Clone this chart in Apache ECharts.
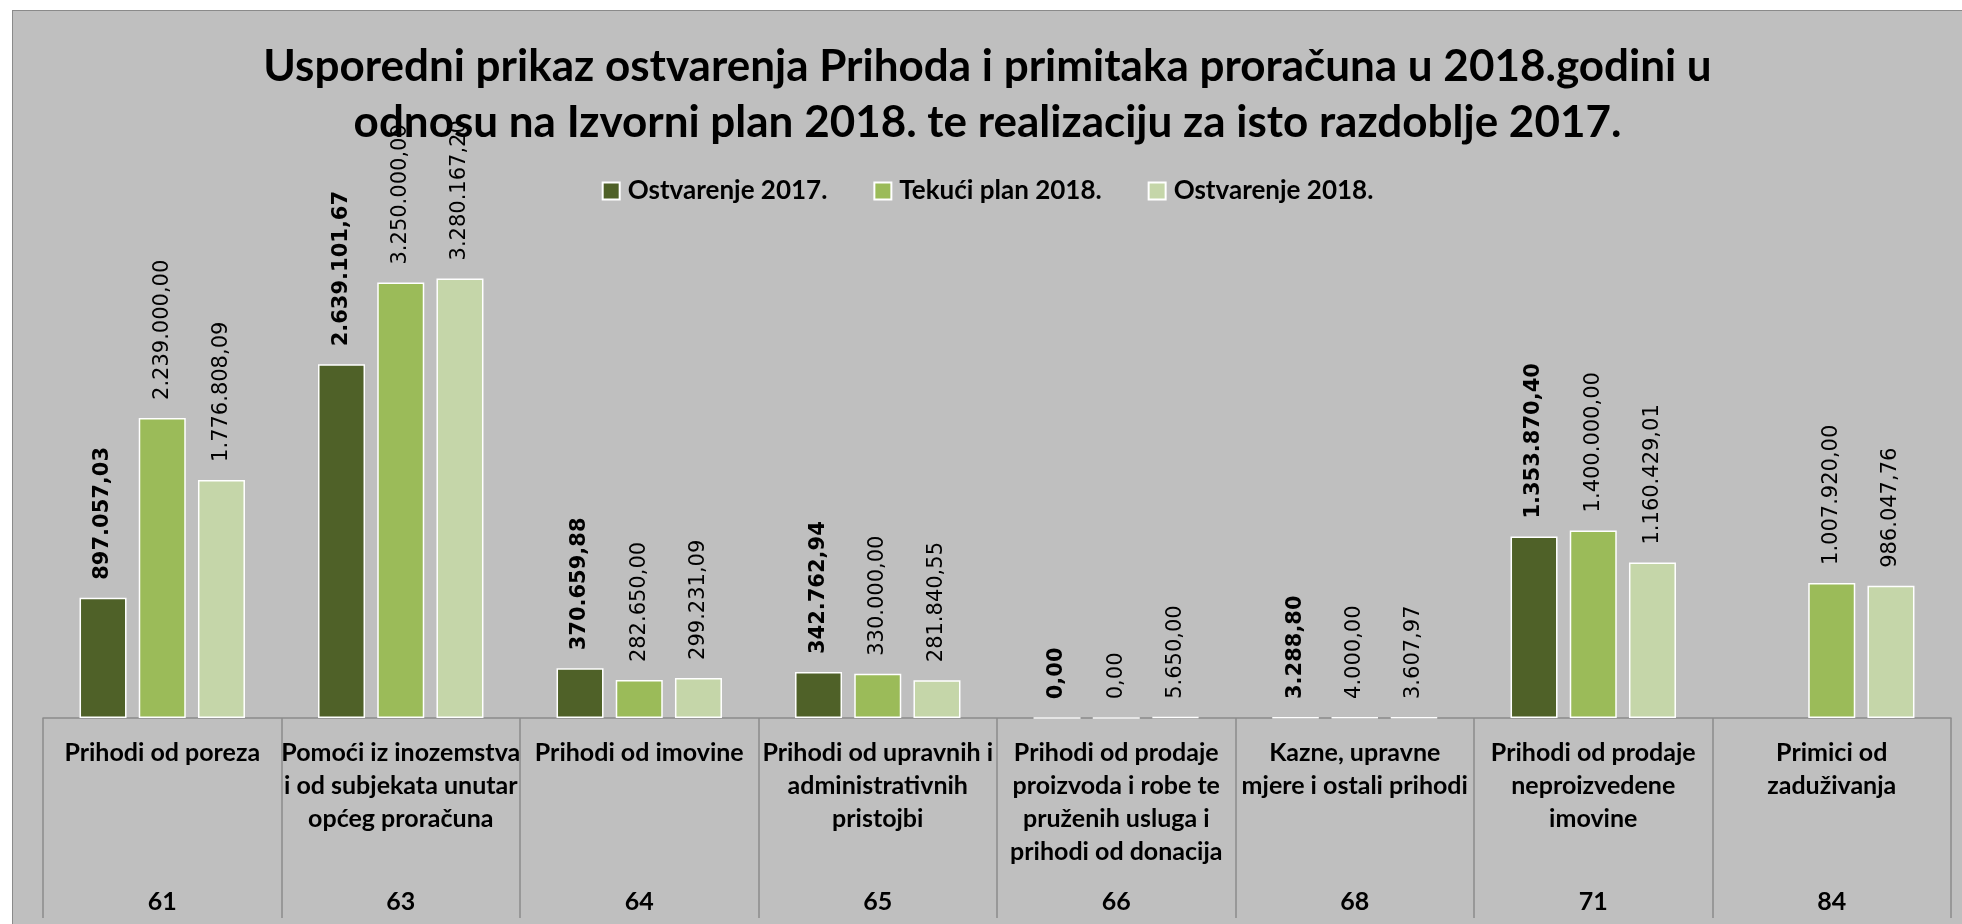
<!DOCTYPE html>
<html>
<head>
<meta charset="utf-8">
<script src="https://cdn.jsdelivr.net/npm/echarts@6/dist/echarts.min.js"></script>
<style>
  html, body { margin: 0; padding: 0; background: #fff; }
  #wrap { position: relative; width: 1962px; height: 924px; background: #fff; }
  #chart {
    position: absolute; left: 12px; top: 10px; width: 1950px; height: 914px;
    background: #bfbfbf; border-top: 1.5px solid #8a8a8a; border-left: 1.5px solid #8a8a8a;
    box-sizing: border-box;
  }
</style>
</head>
<body>
<div id="wrap"><div id="chart"></div></div>
<script>
// kategorije (naziv + konto)
const categories = [
  'Prihodi od poreza',
  'Pomoći iz inozemstva\ni od subjekata unutar\nopćeg proračuna',
  'Prihodi od imovine',
  'Prihodi od upravnih i\nadministrativnih\npristojbi',
  'Prihodi od prodaje\nproizvoda i robe te\npruženih usluga i\nprihodi od donacija',
  'Kazne, upravne\nmjere i ostali prihodi',
  'Prihodi od prodaje\nneproizvedene\nimovine',
  'Primici od\nzaduživanja'
];
const codes = ['61', '63', '64', '65', '66', '68', '71', '84'];

const ostvarenje2017 = [897057.03, 2639101.67, 370659.88, 342762.94, 0, 3288.80, 1353870.40, null];
const tekuciPlan2018 = [2239000.00, 3250000.00, 282650.00, 330000.00, 0, 4000.00, 1400000.00, 1007920.00];
const ostvarenje2018 = [1776808.09, 3280167.20, 299231.09, 281840.55, 5650.00, 3607.97, 1160429.01, 986047.76];

const seriesNames = ['Ostvarenje 2017.', 'Tekući plan 2018.', 'Ostvarenje 2018.'];
const colors = ['#4f6128', '#9bbb59', '#c5d6a9'];

// 1234567.8 -> 1.234.567,80
function fmt(v) {
  const parts = Number(v).toFixed(2).split('.');
  return parts[0].replace(/\B(?=(\d{3})+(?!\d))/g, '.') + ',' + parts[1];
}

function barSeries(name, data, color, bold) {
  return {
    name: name,
    type: 'bar',
    data: data,
    barWidth: 47,
    barGap: '26%',
    itemStyle: { color: color, borderColor: '#ffffff', borderWidth: 1.5 },
    label: {
      show: true,
      position: 'top',
      rotate: 90,
      align: 'left',
      verticalAlign: 'middle',
      distance: 18,
      fontFamily: 'DejaVu Sans',
      fontSize: 21,
      fontWeight: bold ? 'bold' : 'normal',
      color: '#000',
      formatter: function (p) { return fmt(p.value); }
    }
  };
}

const chart = echarts.init(document.getElementById('chart'));
chart.setOption({
  animation: false,
  backgroundColor: 'transparent',
  title: {
    text: 'Usporedni prikaz ostvarenja Prihoda i primitaka proračuna u 2018.godini u\nodnosu na Izvorni plan 2018. te realizaciju za isto razdoblje 2017.',
    left: 'center',
    top: 28,
    padding: 0,
    textStyle: {
      fontFamily: 'Lato',
      fontWeight: 'bold',
      fontSize: 44,
      lineHeight: 56,
      color: '#000'
    }
  },
  legend: {
    top: 162,
    left: 'center',
    itemWidth: 17,
    itemHeight: 17,
    itemGap: 46,
    icon: 'rect',
    textStyle: {
      fontFamily: 'Lato',
      fontWeight: 'bold',
      fontSize: 26,
      color: '#000',
      padding: [0, 0, 0, 3]
    }
  },
  grid: { left: 30, right: 11, top: 238, bottom: 206 },
  xAxis: [
    {
      type: 'category',
      data: categories,
      axisLine: { lineStyle: { color: '#8c8c8c', width: 1.5 } },
      axisTick: { show: true, length: 200, interval: 0, lineStyle: { color: '#8c8c8c', width: 1.5 } },
      axisLabel: {
        interval: 0,
        margin: 18,
        fontFamily: 'Lato',
        fontWeight: 'bold',
        fontSize: 25,
        lineHeight: 33,
        color: '#000',
        align: 'center'
      }
    },
    {
      type: 'category',
      position: 'bottom',
      data: codes,
      axisLine: { show: false },
      axisTick: { show: false },
      axisLabel: {
        interval: 0,
        margin: 167,
        fontFamily: 'Lato',
        fontWeight: 'bold',
        fontSize: 25,
        lineHeight: 33,
        color: '#000'
      }
    }
  ],
  yAxis: {
    type: 'value',
    min: 0,
    max: 3500000,
    show: false,
    splitLine: { show: false }
  },
  series: [
    barSeries(seriesNames[0], ostvarenje2017, colors[0], true),
    barSeries(seriesNames[1], tekuciPlan2018, colors[1], false),
    barSeries(seriesNames[2], ostvarenje2018, colors[2], false)
  ]
});
</script>
</body>
</html>
